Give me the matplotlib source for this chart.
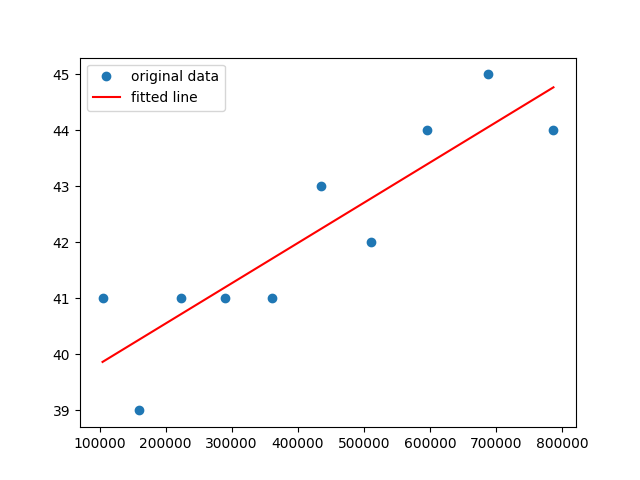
import numpy as np
import matplotlib
matplotlib.use('Agg')
import matplotlib.pyplot as plt

x = np.array([104600, 159400, 223800, 290000, 360300, 435300, 511000, 596000, 688000, 787000])
y = np.array([41, 39, 41, 41, 41, 43, 42, 44, 45, 44])

# ajuste linear simples
slope, intercept = np.polyfit(x, y, 1)

fig = plt.figure(figsize=(6.4, 4.8), dpi=100)
plt.plot(x, y, 'o', label='original data')
plt.plot(x, intercept + slope * x, 'r', label='fitted line')
plt.legend()
plt.savefig('out.png')
